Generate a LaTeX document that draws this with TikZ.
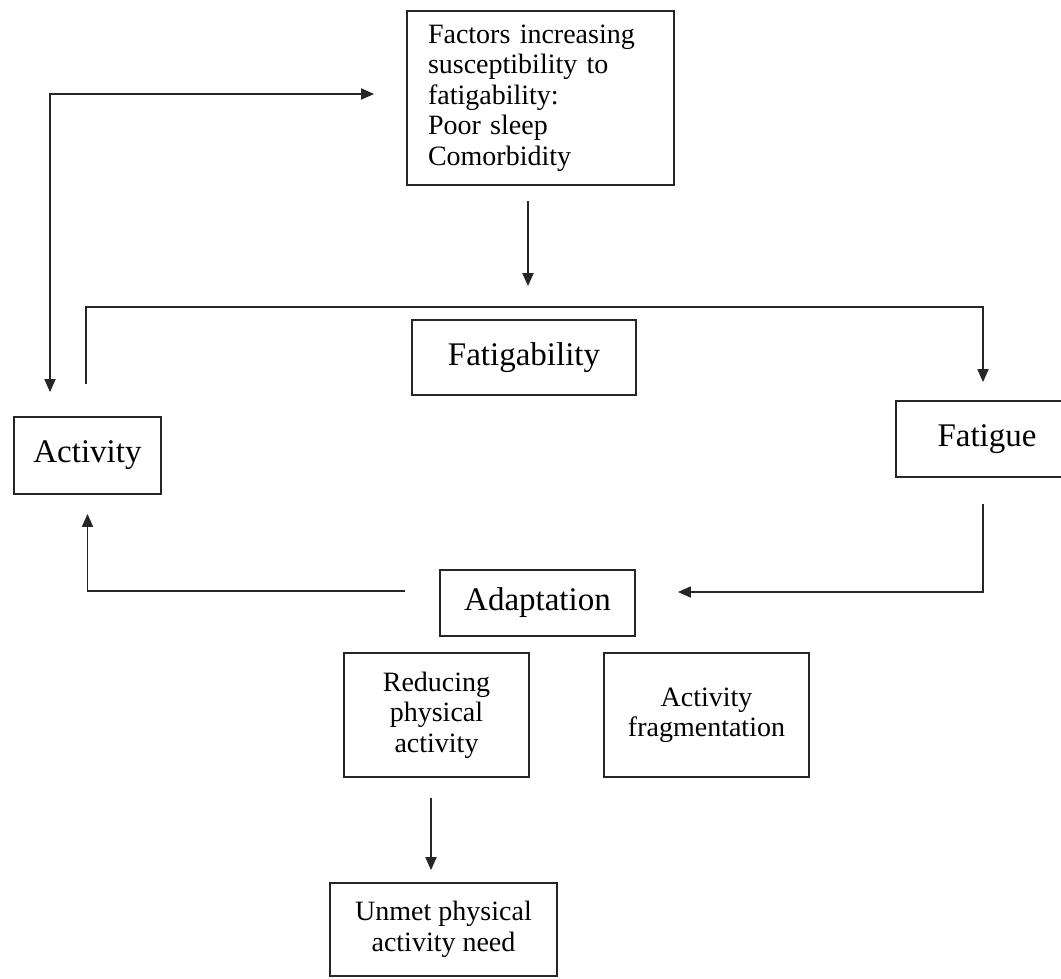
\documentclass[tikz,border=0pt]{standalone}
\usepackage{fontspec}
\setmainfont{Liberation Serif}
\usetikzlibrary{arrows.meta}
\begin{document}
\begin{tikzpicture}[x=1pt,y=-1pt,
  box/.style={draw=black!85, line width=1.8pt, inner sep=0pt, align=center, font=\fontsize{28}{30.5}\selectfont},
  bigbox/.style={box, font=\fontsize{33}{36}\selectfont},
  conn/.style={draw=black!85, line width=1.8pt},
  arr/.style={conn, -{Triangle[length=13pt,width=11pt]}},
  arrr/.style={conn, {Triangle[length=13pt,width=11pt]}-{Triangle[length=13pt,width=11pt]}}]
\useasboundingbox (0,0) rectangle (1061,978);
\clip (0,0) rectangle (1061,978);
\fill[white] (0,0) rectangle (1061,978);

\node[box, minimum width=267pt, minimum height=174pt, text width=225pt, inner xsep=21pt, align=left] (fac) at (540.5,98)
  {Factors increasing\\susceptibility to\\fatigability:\\Poor sleep\\Comorbidity};
\node[bigbox, minimum width=224pt, minimum height=75pt] (fab) at (524,357.5) {Fatigability};
\node[bigbox, minimum width=147pt, minimum height=77pt] (act) at (87.5,455.5) {Activity};
\node[bigbox, minimum width=182pt, minimum height=76pt] (fat) at (987,439) {Fatigue};
\node[bigbox, minimum width=195pt, minimum height=66pt] (ada) at (537.5,603) {Adaptation};
\node[box, minimum width=185pt, minimum height=124pt] (red) at (436.5,715) {Reducing\\physical\\activity};
\node[box, minimum width=205pt, minimum height=124pt] (frag) at (706.5,715) {Activity\\fragmentation};
\node[box, minimum width=227pt, minimum height=93pt] (unm) at (443.5,929.5) {Unmet physical\\activity need};

% Activity <-> Factors
\draw[arrr] ([xshift=-32pt,yshift=4pt]fac.west) -| ([xshift=-37.5pt,yshift=24pt]act.north);
% Factors -> (toward) Fatigability
\draw[arr] ([xshift=-12.5pt,yshift=-15pt]fac.south) -- ([xshift=4pt,yshift=33pt]fab.north);
% Activity -> Fatigue
\draw[arr] ([xshift=-1.5pt,yshift=32pt]act.north) |- ([xshift=-4pt,yshift=93pt]fat.north) -- ([xshift=-4pt,yshift=18pt]fat.north);
% Fatigue -> Adaptation
\draw[arr] ([xshift=-4pt,yshift=-26pt]fat.south) |- ([xshift=42pt,yshift=11pt]ada.east);
% Adaptation -> Activity
\draw[arr] ([xshift=-34pt,yshift=12pt]ada.west) -| ([yshift=-19pt]act.south);
% Reducing -> Unmet
\draw[arr] ([xshift=-5.5pt,yshift=-20pt]red.south) -- ([xshift=-12.5pt,yshift=12pt]unm.north);
\end{tikzpicture}
\end{document}
